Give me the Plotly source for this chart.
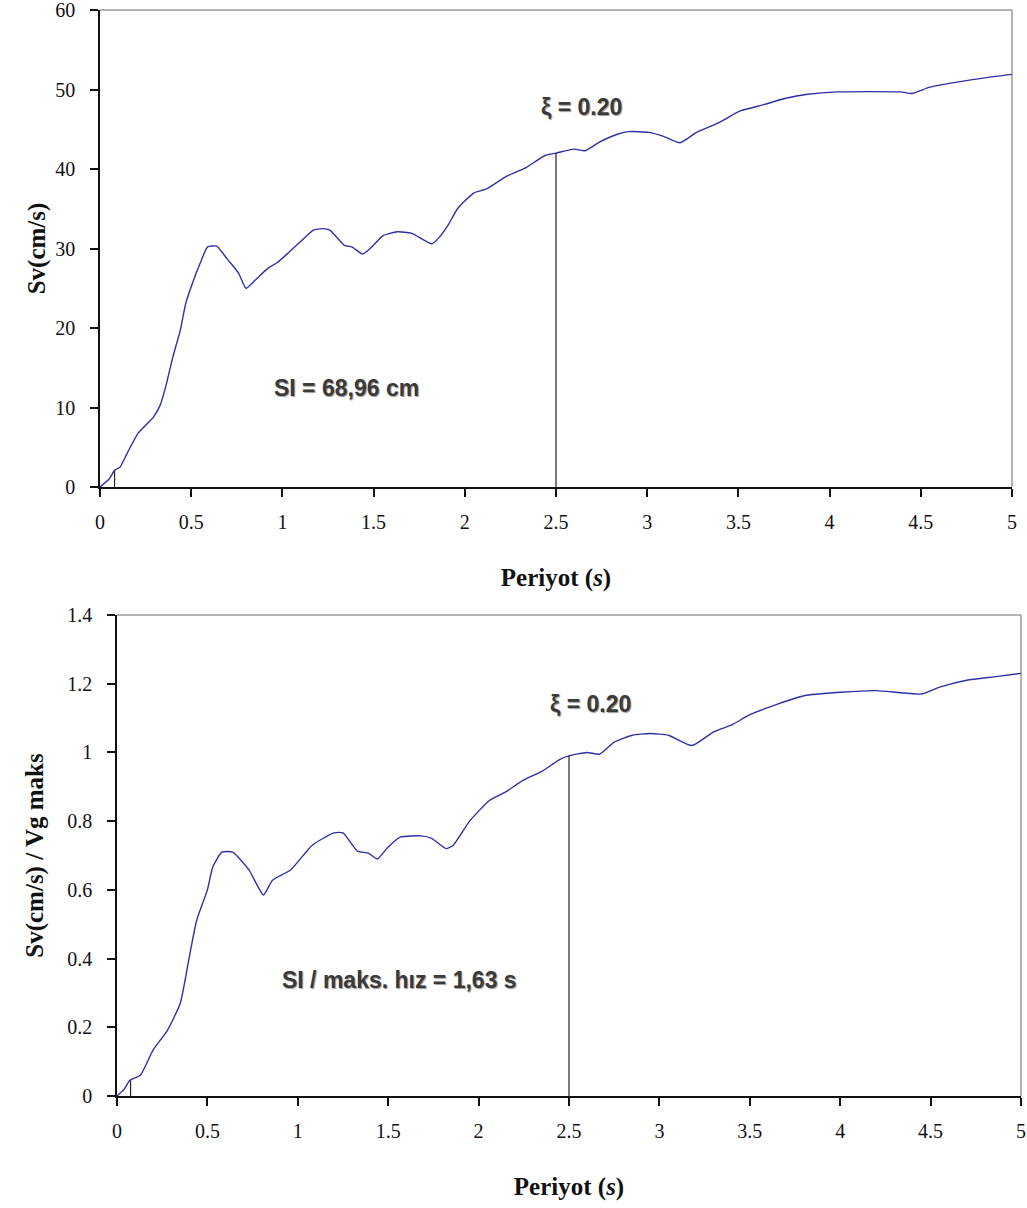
import plotly.graph_objects as go

# ---- data ----
period_top = [0.00, 0.05, 0.08, 0.11, 0.15, 0.21, 0.26, 0.29, 0.33, 0.36, 0.40, 0.44, 0.47,
              0.50, 0.55, 0.59, 0.64, 0.70, 0.76, 0.80, 0.85, 0.92, 0.97, 1.03, 1.11, 1.17,
              1.22, 1.26, 1.34, 1.38, 1.44, 1.49, 1.55, 1.63, 1.71, 1.82, 1.86, 1.91, 1.96,
              2.05, 2.12, 2.23, 2.33, 2.44, 2.50, 2.60, 2.66, 2.74, 2.84, 2.90, 3.01, 3.09,
              3.18, 3.27, 3.39, 3.51, 3.64, 3.76, 3.88, 4.04, 4.39, 4.45, 4.55, 4.69, 4.86, 5.00]
sv_top = [0.0, 1.0, 2.1, 2.5, 4.3, 6.8, 8.0, 8.7, 10.3, 12.6, 16.4, 19.7, 23.1,
          25.2, 28.2, 30.2, 30.3, 28.6, 26.9, 25.0, 26.0, 27.5, 28.2, 29.4, 31.1, 32.3,
          32.5, 32.3, 30.4, 30.2, 29.3, 30.2, 31.6, 32.1, 31.9, 30.6, 31.4, 33.0, 35.0,
          37.0, 37.5, 39.1, 40.1, 41.7, 42.0, 42.5, 42.3, 43.4, 44.4, 44.7, 44.6, 44.1,
          43.3, 44.6, 45.8, 47.3, 48.1, 48.9, 49.4, 49.7, 49.7, 49.5, 50.3, 50.9, 51.5, 51.9]

period_bot = [0.00, 0.04, 0.07, 0.13, 0.20, 0.28, 0.35, 0.40, 0.44, 0.50, 0.53, 0.58, 0.64,
              0.73, 0.81, 0.86, 0.96, 1.08, 1.20, 1.25, 1.33, 1.39, 1.44, 1.50, 1.57, 1.68,
              1.74, 1.82, 1.86, 1.95, 2.06, 2.15, 2.25, 2.35, 2.45, 2.50, 2.60, 2.67, 2.75,
              2.85, 2.95, 3.05, 3.18, 3.30, 3.40, 3.50, 3.65, 3.80, 4.00, 4.20, 4.45, 4.55,
              4.70, 4.85, 5.00]
ratio_bot = [0.0, 0.02, 0.045, 0.061, 0.134, 0.192, 0.27, 0.405, 0.51, 0.60, 0.667, 0.71, 0.71,
             0.658, 0.585, 0.628, 0.658, 0.73, 0.766, 0.766, 0.713, 0.707, 0.69, 0.725, 0.754, 0.757,
             0.75, 0.72, 0.73, 0.80, 0.86, 0.885, 0.92, 0.945, 0.98, 0.99, 1.0, 0.995, 1.03,
             1.05, 1.055, 1.05, 1.02, 1.06, 1.08, 1.11, 1.14, 1.165, 1.175, 1.18, 1.17, 1.19,
             1.21, 1.22, 1.23]

# marker lines (period, value at curve)
marks_top_x = [0.08, 2.50]
marks_top_y = [2.1, 42.0]
marks_bot_x = [0.075, 2.50]
marks_bot_y = [0.045, 0.99]

x_ticks = [0, 0.5, 1, 1.5, 2, 2.5, 3, 3.5, 4, 4.5, 5]
x_ticktext = ["0", "0.5", "1", "1.5", "2", "2.5", "3", "3.5", "4", "4.5", "5"]
y_top_ticks = [0, 10, 20, 30, 40, 50, 60]
y_bot_ticks = [0, 0.2, 0.4, 0.6, 0.8, 1.0, 1.2, 1.4]
y_bot_ticktext = ["0", "0.2", "0.4", "0.6", "0.8", "1", "1.2", "1.4"]

xlabel = "Periyot (<i>s</i>)"
ylabel_top = "Sv(cm/s)"
ylabel_bot = "Sv(cm/s) / Vg maks"
damping_text = "ξ = 0.20"
si_top_text = "SI = 68,96 cm"
si_bot_text = "SI / maks. hız = 1,63 s"

W, H = 1027, 1208
LINE = "#2E31A6"
SERIF = "Liberation Serif, Times New Roman, serif"
NARROW = "Liberation Sans Narrow, Arial Narrow, Liberation Sans, sans-serif"

fig = go.Figure()

fig.add_trace(go.Scatter(x=period_top, y=sv_top, mode="lines",
                         line=dict(color=LINE, width=1.4, shape="spline", smoothing=0.5),
                         xaxis="x", yaxis="y", showlegend=False, hoverinfo="skip"))
for mx, my in zip(marks_top_x, marks_top_y):
    fig.add_trace(go.Scatter(x=[mx, mx], y=[0, my], mode="lines",
                             line=dict(color="#222222", width=1.2),
                             xaxis="x", yaxis="y", showlegend=False, hoverinfo="skip"))

fig.add_trace(go.Scatter(x=period_bot, y=ratio_bot, mode="lines",
                         line=dict(color=LINE, width=1.4, shape="spline", smoothing=0.5),
                         xaxis="x2", yaxis="y2", showlegend=False, hoverinfo="skip"))
for mx, my in zip(marks_bot_x, marks_bot_y):
    fig.add_trace(go.Scatter(x=[mx, mx], y=[0, my], mode="lines",
                             line=dict(color="#222222", width=1.2),
                             xaxis="x2", yaxis="y2", showlegend=False, hoverinfo="skip"))

def px_x(p):
    return p / W

def px_y(p):
    return 1 - p / H

tickfont = dict(family=SERIF, size=20, color="#111111")
titlefont = dict(family=SERIF, size=25, color="#111111", weight="bold")

common_x = dict(range=[0, 5], tickvals=x_ticks, ticktext=x_ticktext, showgrid=False,
                zeroline=False, showline=True, linecolor="#111111", linewidth=1.5,
                ticks="outside", ticklen=8, tickcolor="#111111", tickwidth=1.5,
                tickfont=tickfont, automargin=False, fixedrange=True,
                ticklabelstandoff=8, ticklabeloverflow="allow")
common_y = dict(showgrid=False, zeroline=False, showline=True, linecolor="#111111",
                linewidth=1.5, ticks="outside", ticklen=8, tickcolor="#111111", tickwidth=1.5,
                tickfont=tickfont, automargin=False, fixedrange=True, ticklabelstandoff=11,
                ticklabeloverflow="allow")

fig.update_layout(
    width=W, height=H,
    margin=dict(l=0, r=0, t=0, b=0),
    paper_bgcolor="white", plot_bgcolor="white",
    xaxis=dict(common_x, domain=[px_x(100), px_x(1012)], anchor="y",
               title=dict(text=xlabel, font=titlefont, standoff=37)),
    yaxis=dict(common_y, domain=[px_y(487), px_y(10)], anchor="x", range=[0, 60],
               tickvals=y_top_ticks,
               title=dict(text=ylabel_top, font=titlefont, standoff=3)),
    xaxis2=dict(common_x, domain=[px_x(117), px_x(1021)], anchor="y2",
                title=dict(text=xlabel, font=titlefont, standoff=37)),
    yaxis2=dict(common_y, domain=[px_y(1096), px_y(615)], anchor="x2", range=[0, 1.4],
                tickvals=y_bot_ticks, ticktext=y_bot_ticktext,
                title=dict(text=ylabel_bot, font=titlefont, standoff=17)),
)

# gray top/right frame of the plot areas
for xr, yr in (("x", "y"), ("x2", "y2")):
    fig.add_shape(type="line", xref=xr + " domain", yref=yr + " domain",
                  x0=0, x1=1, y0=1, y1=1, line=dict(color="#9A9A9A", width=1.5), layer="below")
    fig.add_shape(type="line", xref=xr + " domain", yref=yr + " domain",
                  x0=1, x1=1, y0=0, y1=1, line=dict(color="#9A9A9A", width=1.5), layer="below")

annfont = dict(family=NARROW, size=23, color="#3A3A3A", weight="bold",
               shadow="1px 1px 1px #9A9A9A")
fig.add_annotation(x=2.64, y=47.8, xref="x", yref="y", text=damping_text,
                   showarrow=False, font=annfont)
fig.add_annotation(x=1.35, y=12.5, xref="x", yref="y", text=si_top_text,
                   showarrow=False, font=annfont)
fig.add_annotation(x=2.62, y=1.14, xref="x2", yref="y2", text=damping_text,
                   showarrow=False, font=annfont)
fig.add_annotation(x=1.565, y=0.338, xref="x2", yref="y2", text=si_bot_text,
                   showarrow=False, font=annfont)

fig.write_html("out.html", config={"displayModeBar": False},
               post_script="document.body.style.margin='0';document.body.style.overflow='hidden';")
